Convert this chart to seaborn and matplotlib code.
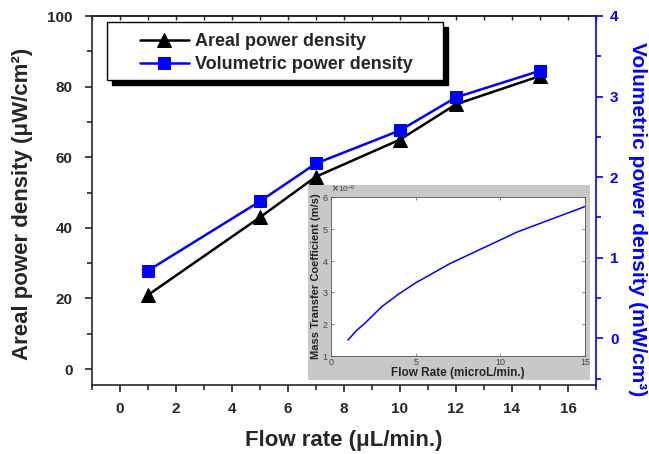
import numpy as np
import pandas as pd
import matplotlib
matplotlib.use("Agg")
import matplotlib.pyplot as plt
import seaborn as sns
from matplotlib.patches import Rectangle
from matplotlib.ticker import MultipleLocator, ScalarFormatter

# ---- data ----
flow_rate = [1, 5, 7, 10, 12, 15]
areal_density = [21, 43, 54.5, 65, 75, 83]          # µW/cm2
volumetric_density = [0.84, 1.70, 2.17, 2.58, 2.99, 3.32]  # mW/cm3

inset_flow = [1, 1.5, 2, 3, 4, 5, 6, 7, 8, 9, 10, 11, 12, 13, 14, 15]
inset_k = [1.5, 1.8, 2.03, 2.55, 2.95, 3.3, 3.6, 3.9, 4.15, 4.4, 4.65, 4.9, 5.1, 5.3, 5.5, 5.7]  # x1e-6 m/s

x_ticks = [0, 2, 4, 6, 8, 10, 12, 14, 16]
left_ticks = [0, 20, 40, 60, 80, 100]
right_ticks = [0, 1, 2, 3, 4]

sns.set_style("ticks")
plt.rcParams['font.family'] = ['Liberation Sans', 'DejaVu Sans']
plt.rcParams['font.weight'] = 'bold'
plt.rcParams['axes.labelweight'] = 'bold'

W, H = 649, 454
fig = plt.figure(figsize=(W / 100, H / 100), dpi=100)

def fx(px):
    return px / W

def fy(py):
    return 1 - py / H

blue = '#0000FF'
ax = fig.add_axes([fx(92), fy(385), fx(596) - fx(92), fy(16) - fy(385)])
ax2 = ax.twinx()

df = pd.DataFrame({'flow': flow_rate, 'areal': areal_density, 'vol': volumetric_density})
sns.lineplot(data=df, x='flow', y='areal', ax=ax, color='black', marker='^',
             markersize=10, markeredgecolor='black', linewidth=1.8,
             label='Areal power density', legend=False)
sns.lineplot(data=df, x='flow', y='vol', ax=ax2, color=blue, marker='s',
             markersize=8, markeredgecolor=blue, linewidth=1.8,
             label='Volumetric power density', legend=False)

ax.set_xlim(-1, 17)
ax.set_ylim(-4.5, 100)
ax2.set_ylim(-0.58, 4)
ax.set_xticks(x_ticks)
ax.xaxis.set_minor_locator(MultipleLocator(1))
ax.set_yticks(left_ticks)
ax.yaxis.set_minor_locator(MultipleLocator(10))
ax2.set_yticks(right_ticks)
ax2.yaxis.set_minor_locator(MultipleLocator(0.5))

for a in (ax, ax2):
    for s in a.spines.values():
        s.set_linewidth(1.2)
ax.spines['top'].set_visible(True)
ax.spines['right'].set_visible(False)
ax2.spines['left'].set_visible(False)
ax2.spines['top'].set_visible(False)
ax2.spines['bottom'].set_visible(False)
ax2.spines['right'].set_color(blue)

ax.tick_params(axis='both', which='major', direction='out', length=5, width=1.2,
               labelsize=11)
ax.tick_params(axis='y', which='major', pad=9)
ax.tick_params(axis='x', which='major', pad=7)
ax.tick_params(axis='both', which='minor', direction='out', length=3.5, width=1.2)
ax2.tick_params(axis='y', which='major', direction='out', length=5, width=1.2,
                colors=blue, labelsize=11, pad=5)
ax2.tick_params(axis='y', which='minor', direction='out', length=3.5, width=1.2,
                colors=blue)
for lbl in ax.get_xticklabels() + ax.get_yticklabels() + ax2.get_yticklabels():
    lbl.set_fontweight('bold')

secx = ax.secondary_xaxis('top')
secx.set_xticks(x_ticks)
secx.xaxis.set_minor_locator(MultipleLocator(1))
secx.tick_params(axis='x', which='both', direction='in', length=3, width=1.0,
                 labeltop=False)
secx.spines['top'].set_linewidth(1.2)

ax.set_xlabel('Flow rate (\u03bcL/min.)', fontsize=16, fontweight='bold', labelpad=10)
ax.set_ylabel('Areal power density (\u03bcW/cm\u00b2)', fontsize=16, fontweight='bold',
              va='center')
ax.yaxis.set_label_coords(-0.138, 0.49)
ax2.set_ylabel('Volumetric power density (mW/cm\u00b3)', fontsize=15, fontweight='bold',
               color=blue, rotation=270, va='center')
ax2.yaxis.set_label_coords(1.082, 0.45)

# ---- legend with shadow frame ----
shadow = Rectangle((fx(112), fy(85)), fx(448) - fx(112), fy(27) - fy(85),
                   transform=fig.transFigure, facecolor='black', edgecolor='black',
                   zorder=5)
box = Rectangle((fx(107), fy(80)), fx(443) - fx(107), fy(22) - fy(80),
                transform=fig.transFigure, facecolor='white', edgecolor='black',
                linewidth=1.0, zorder=6)
fig.patches.extend([shadow, box])
h1, l1 = ax.get_legend_handles_labels()
h2, l2 = ax2.get_legend_handles_labels()
leg = fig.legend(h1 + h2, l1 + l2, loc='upper left',
                 bbox_to_anchor=(fx(140), fy(33)), bbox_transform=fig.transFigure,
                 frameon=False, handlelength=2.7, handletextpad=0.35,
                 labelspacing=0.35, borderpad=0, borderaxespad=0,
                 prop={'weight': 'bold', 'size': 13})
leg.set_zorder(7)

# ---- inset ----
grey = fig.add_axes([fx(308), fy(380), fx(590) - fx(308), fy(185) - fy(380)])
grey.set_facecolor('#c8c8c8')
grey.set_xticks([])
grey.set_yticks([])
for s in grey.spines.values():
    s.set_visible(False)
grey.set_zorder(8)

ins = fig.add_axes([fx(331), fy(356), fx(585) - fx(331), fy(197) - fy(356)])
ins.set_zorder(9)
ins.set_facecolor('white')
ins_df = pd.DataFrame({'flow': inset_flow, 'k': np.array(inset_k) * 1e-6})
sns.lineplot(data=ins_df, x='flow', y='k', ax=ins, color=blue, linewidth=1.1)
ins.set_xlim(0, 15)
ins.set_ylim(1e-6, 6e-6)
ins.set_xticks([0, 5, 10, 15])
ins.set_yticks([1e-6, 2e-6, 3e-6, 4e-6, 5e-6, 6e-6])
fmt = ScalarFormatter(useMathText=True)
fmt.set_powerlimits((0, 0))
ins.yaxis.set_major_formatter(fmt)
ins.yaxis.get_offset_text().set_fontsize(6)
ins.yaxis.get_offset_text().set_fontweight('normal')
ins.yaxis.get_offset_text().set_color('#444444')
ins.tick_params(axis='both', which='both', direction='in', length=2.5, width=0.5,
                top=True, right=True, labelsize=6.5, colors='#555555', pad=1.5,
                labelcolor='#444444')
for lbl in ins.get_xticklabels() + ins.get_yticklabels():
    lbl.set_fontweight('normal')
for s in ins.spines.values():
    s.set_linewidth(0.6)
    s.set_color('#555555')
    s.set_visible(True)
ins.set_xlabel('Flow Rate (microL/min.)', fontsize=8.5, fontweight='bold', labelpad=0)
ins.set_ylabel('Mass Transfer Coefficient (m/s)', fontsize=8, fontweight='bold', labelpad=1)

fig.savefig('out.png', dpi=100)
